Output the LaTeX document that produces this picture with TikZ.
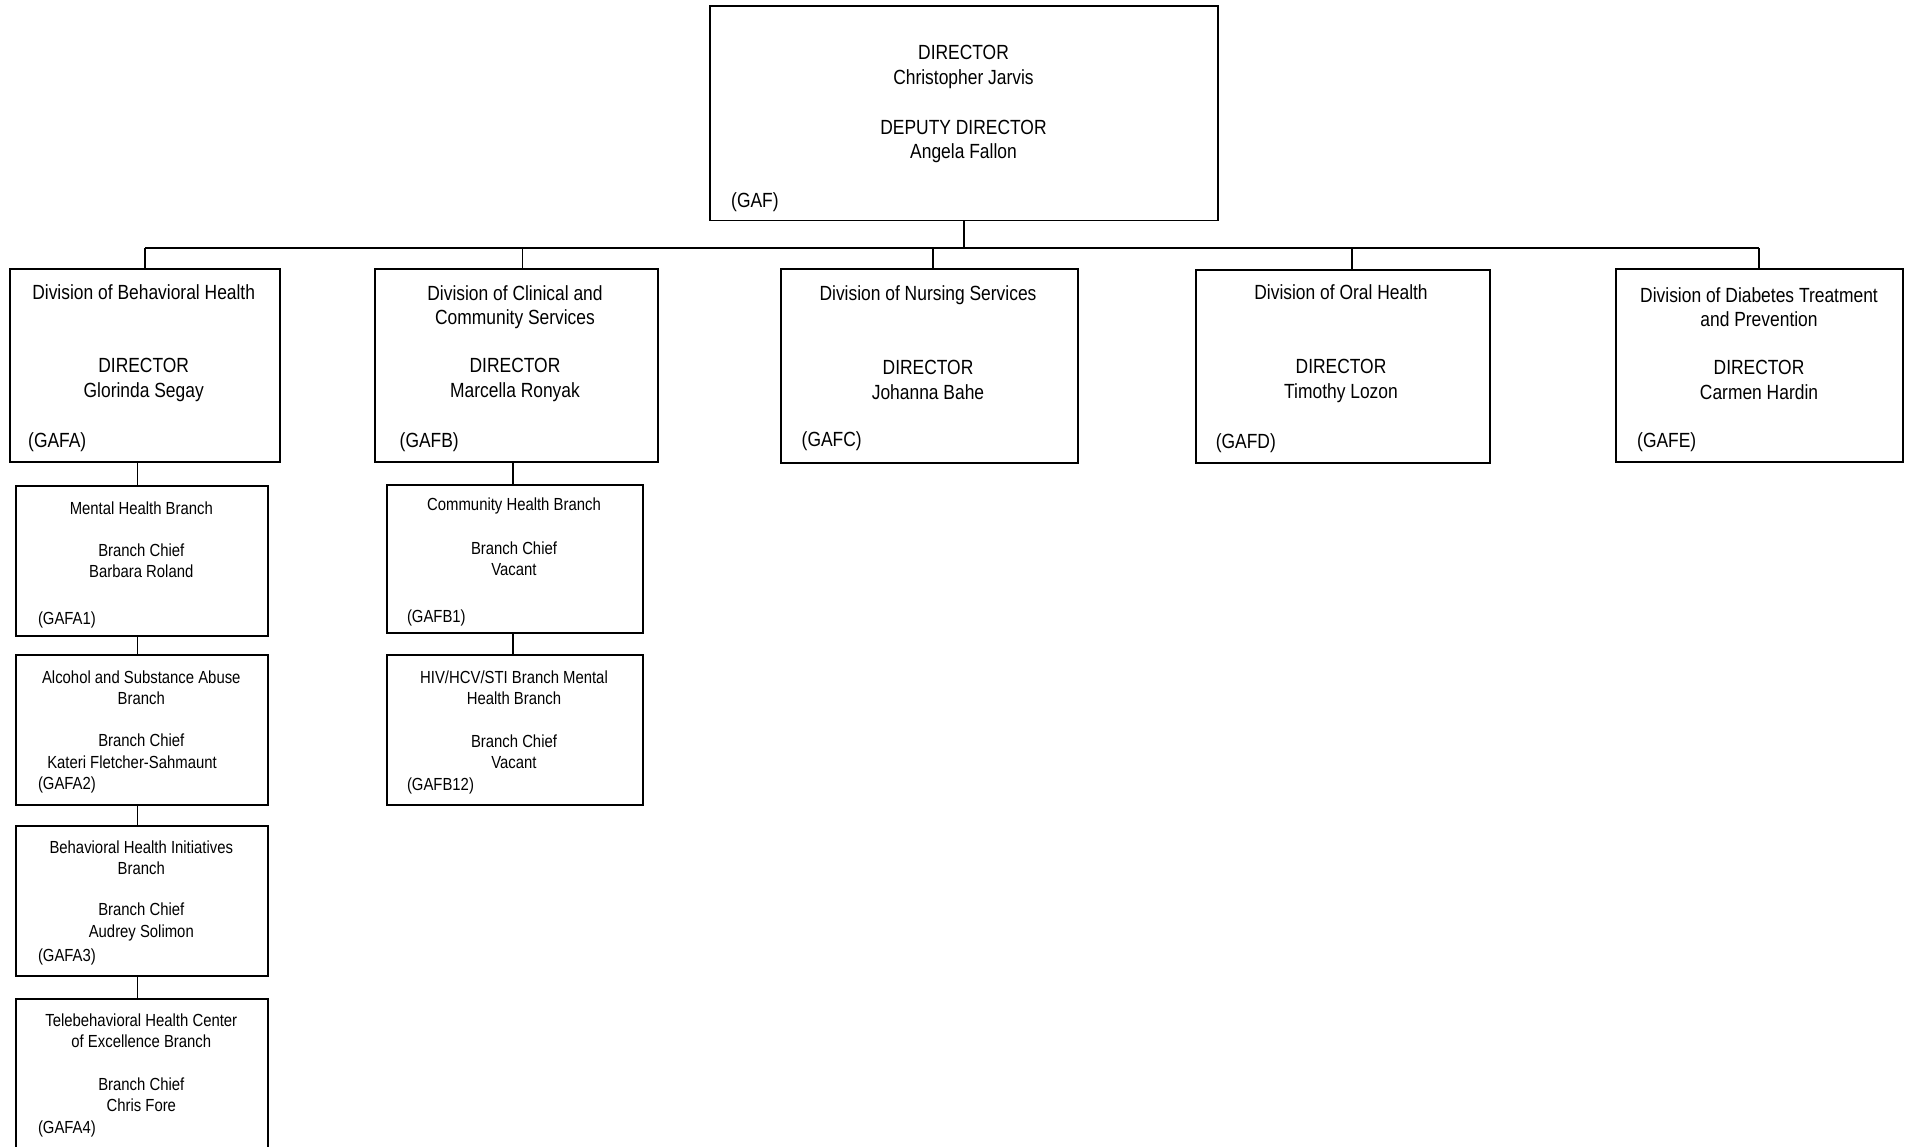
\documentclass[tikz,border=0pt]{standalone}
\usepackage{fontspec}
\setmainfont[FakeStretch=0.85]{Liberation Sans}
\begin{document}
\begin{tikzpicture}[x=1pt,y=-1pt,
  box/.style={draw=black, line width=1.6pt, anchor=north west, inner sep=0pt, outer sep=0pt},
  link/.style={draw=black, line width=1.3pt},
  big/.style={font=\fontsize{20.5}{24.4}\selectfont, align=center, inner sep=0pt, yshift=-2.5pt},
  small/.style={font=\fontsize{17.5}{21.3}\selectfont, align=center, inner sep=0pt},
  code/.style={anchor=west, inner sep=0pt},
  bigcode/.style={code, font=\fontsize{20.5}{24.4}\selectfont, yshift=-2.5pt},
  smallcode/.style={code, font=\fontsize{17.5}{21.3}\selectfont, yshift=-2pt}]
\useasboundingbox (0,0) rectangle (1910,1146);
\clip (0,0) rectangle (1910,1146);

% ---------- top box
\node[box, minimum width=508pt, minimum height=214.5pt] (top) at (710,6) {};
\node[big] (topdir) at (963.5,64.6) {DIRECTOR\\Christopher Jarvis};
\node[big] (topdep) at (963.5,138.9) {DEPUTY DIRECTOR\\Angela Fallon};
\node[bigcode] (topcode) at (731,199.8) {(GAF)};

% ---------- divisions
\node[box, minimum width=270pt, minimum height=193pt] (divA) at (9.7,269) {};
\node[box, minimum width=283pt, minimum height=193pt] (divB) at (375,269) {};
\node[box, minimum width=297pt, minimum height=194pt] (divC) at (781,269) {};
\node[box, minimum width=294pt, minimum height=193pt] (divD) at (1196,270) {};
\node[box, minimum width=287pt, minimum height=193pt] (divE) at (1616,269) {};

\node[big] (hA) at (143.7,289.8) {Division of Behavioral Health};
\node[big] (dA) at (143.7,377.6) {DIRECTOR\\Glorinda Segay};
\node[bigcode] (cA) at (28,439.7) {(GAFA)};

\node[big] (hB) at (515,304.5) {Division of Clinical and\\Community Services};
\node[big] (dB) at (515,377.6) {DIRECTOR\\Marcella Ronyak};
\node[bigcode] (cB) at (399.5,439.7) {(GAFB)};

\node[big] (hC) at (928,292.3) {Division of Nursing Services};
\node[big] (dC) at (928,377.6) {DIRECTOR\\Johanna Bahe};
\node[bigcode] (cC) at (801.5,438.5) {(GAFC)};

\node[big] (hD) at (1341,289.8) {Division of Oral Health};
\node[big] (dD) at (1341,378.5) {DIRECTOR\\Timothy Lozon};
\node[bigcode] (cD) at (1215.6,441) {(GAFD)};

\node[big] (hE) at (1759,304.5) {Division of Diabetes Treatment\\and Prevention};
\node[big] (dE) at (1759,377.6) {DIRECTOR\\Carmen Hardin};
\node[bigcode] (cE) at (1637,439.7) {(GAFE)};

% ---------- branches of A
\node[box, minimum width=252pt, minimum height=150pt] (A1) at (15.8,486) {};
\node[box, minimum width=252pt, minimum height=150pt] (A2) at (15.8,655) {};
\node[box, minimum width=252pt, minimum height=150pt] (A3) at (15.8,826) {};
\node[box, minimum width=252pt, minimum height=180pt] (A4) at (15.8,999) {};

\node[small] (hA1) at (141.3,508) {Mental Health Branch};
\node[small] (dA1) at (141.3,561) {Branch Chief\\Barbara Roland};
\node[smallcode] (cA1) at (37.8,617.6) {(GAFA1)};

\node[small] (hA2) at (141.3,687.6) {Alcohol and Substance Abuse\\Branch};
\node[small] (dA2a) at (141.3,740.6) {Branch Chief};
\node[small] (dA2b) at (132,762.4) {Kateri Fletcher-Sahmaunt};
\node[smallcode] (cA2) at (37.8,783.2) {(GAFA2)};

\node[small] (hA3) at (141.3,857.5) {Behavioral Health Initiatives\\Branch};
\node[small] (dA3) at (141.3,922) {Branch Chief\\Audrey Solimon};
\node[smallcode] (cA3) at (37.8,955) {(GAFA3)};

\node[small] (hA4) at (141.3,1030.5) {Telebehavioral Health Center\\of Excellence Branch};
\node[small] (dA4) at (141.3,1095) {Branch Chief\\Chris Fore};
\node[smallcode] (cA4) at (37.8,1126.7) {(GAFA4)};

% ---------- branches of B
\node[box, minimum width=256pt, minimum height=148pt] (B1) at (387,485) {};
\node[box, minimum width=256pt, minimum height=150pt] (B12) at (387,655) {};

\node[small] (hB1) at (514,505.5) {Community Health Branch};
\node[small] (dB1) at (514,559) {Branch Chief\\Vacant};
\node[smallcode] (cB1) at (406.8,616.3) {(GAFB1)};

\node[small] (hB12) at (514,688) {HIV/HCV/STI Branch Mental\\Health Branch};
\node[small] (dB12) at (514,752) {Branch Chief\\Vacant};
\node[smallcode] (cB12) at (406.8,784.4) {(GAFB12)};

% ---------- connectors
\coordinate (busL) at (145,248);
\coordinate (busR) at (1759,248);
\coordinate (dropA) at (145,248);
\coordinate (dropB) at (522.6,248);
\coordinate (dropC) at (933,248);
\coordinate (dropD) at (1352,248);
\coordinate (dropE) at (1759,248);
\draw[link] (top.south) -- (top.south |- busL);
\draw[link] (busL) -- (busR);
\draw[link] (dropA) -- (dropA |- divA.north);
\draw[link] (dropB) -- (dropB |- divB.north);
\draw[link] (dropC) -- (dropC |- divC.north);
\draw[link] (dropD) -- (dropD |- divD.north);
\draw[link] (dropE) -- (dropE |- divE.north);

\coordinate (colA) at (137.5,0);
\coordinate (colB) at (513,0);
\draw[link] (colA |- divA.south) -- (colA |- A1.north);
\draw[link] (colA |- A1.south) -- (colA |- A2.north);
\draw[link] (colA |- A2.south) -- (colA |- A3.north);
\draw[link] (colA |- A3.south) -- (colA |- A4.north);
\draw[link] (colB |- divB.south) -- (colB |- B1.north);
\draw[link] (colB |- B1.south) -- (colB |- B12.north);
\end{tikzpicture}
\end{document}
